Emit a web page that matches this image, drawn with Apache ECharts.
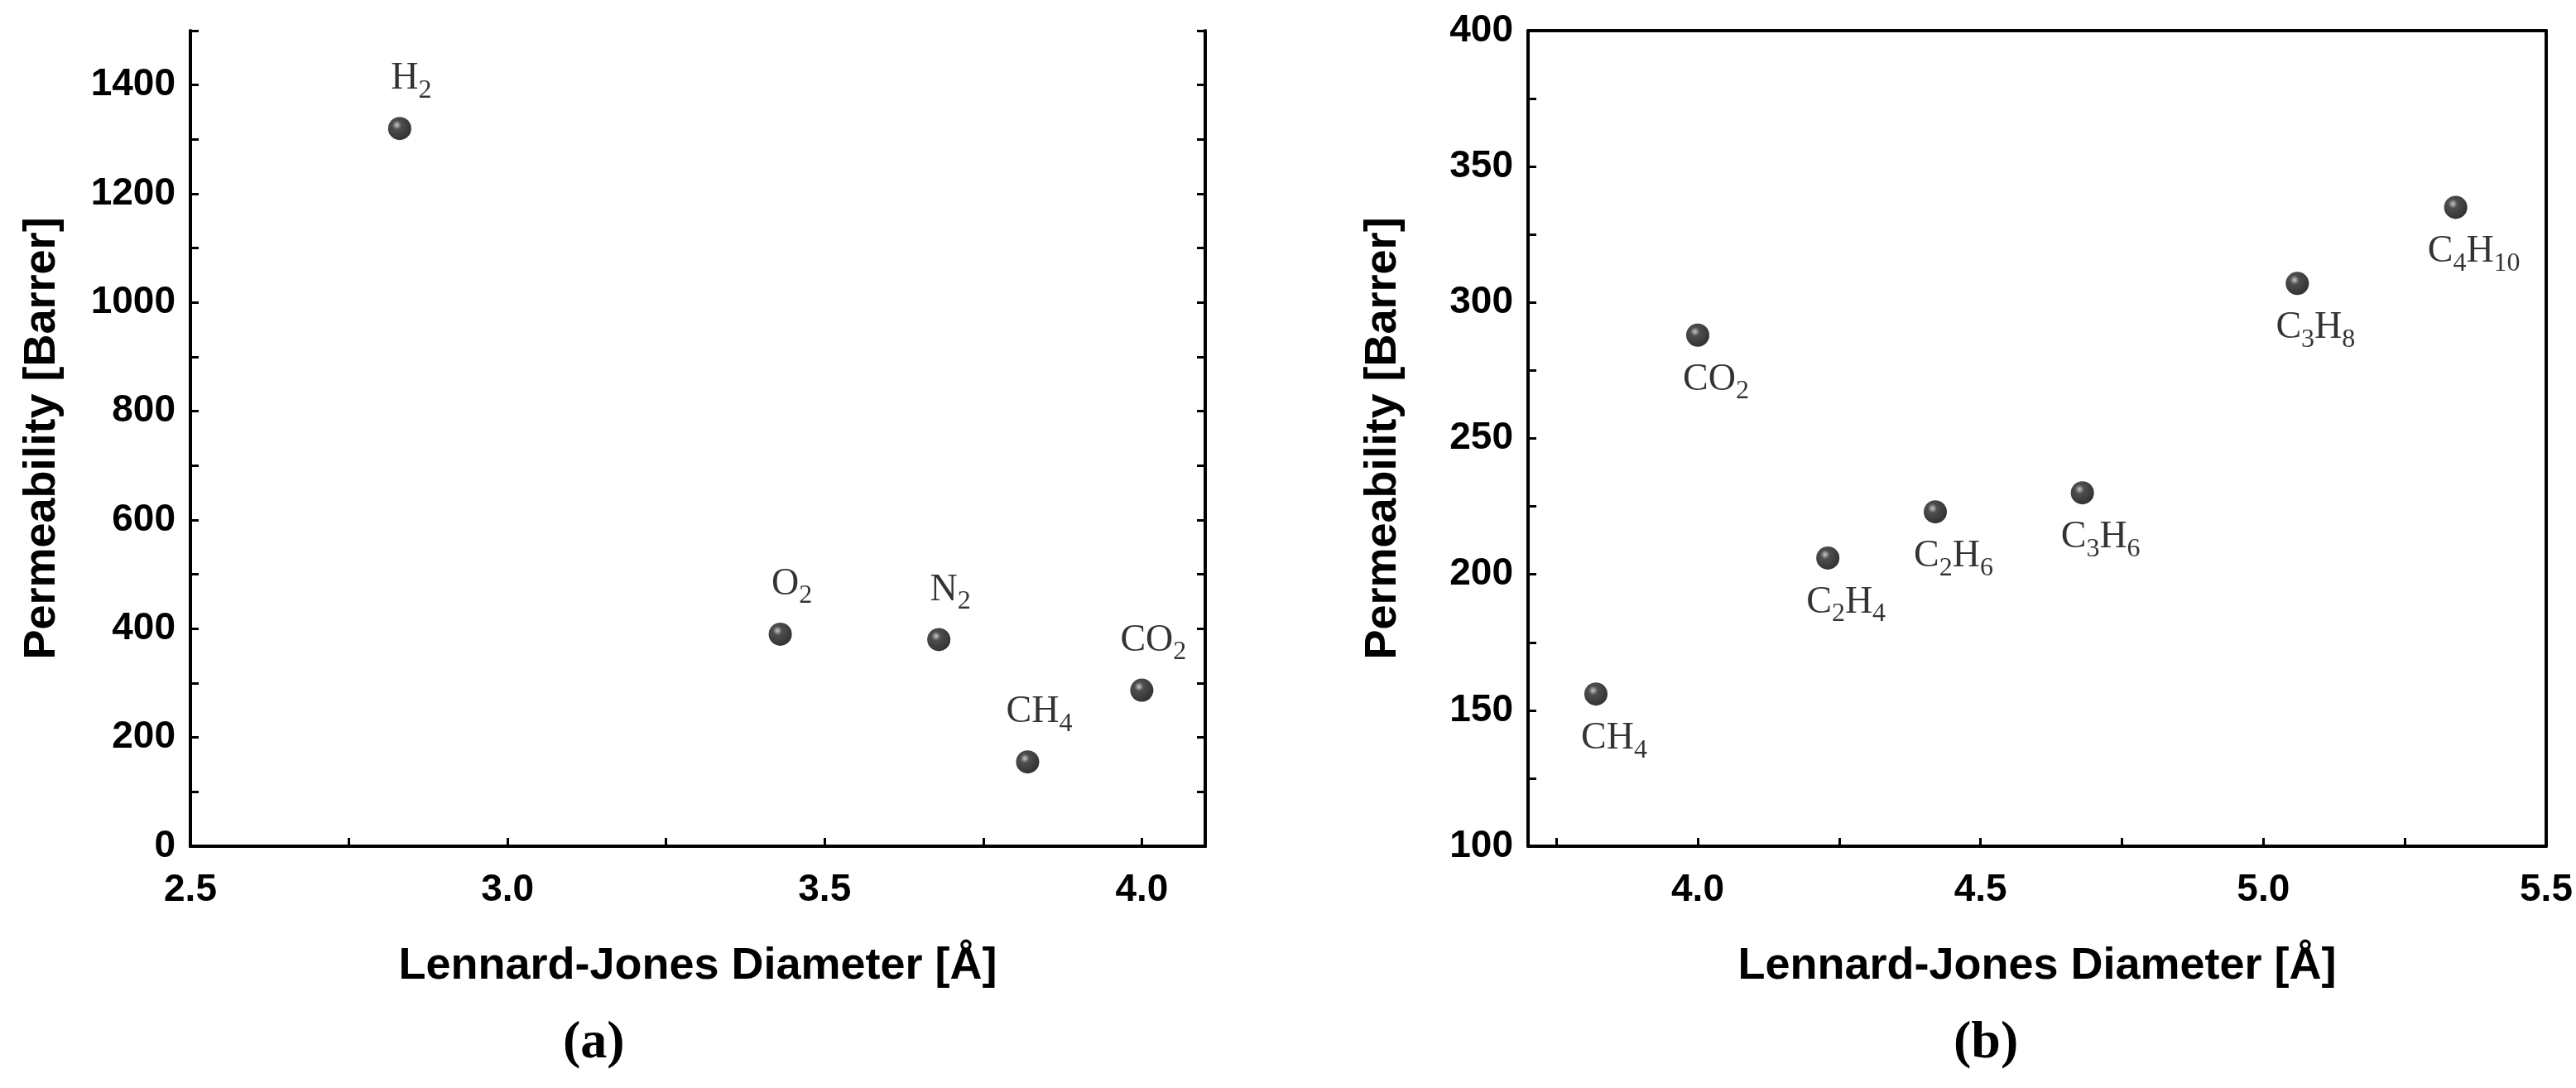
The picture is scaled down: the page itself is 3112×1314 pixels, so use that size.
<!DOCTYPE html>
<html>
<head>
<meta charset="utf-8">
<script src="https://cdn.jsdelivr.net/npm/echarts@6/dist/echarts.min.js"></script>
<style>
  html, body { margin: 0; padding: 0; background: #fff; }
  #main { width: 3112px; height: 1314px; }
</style>
</head>
<body>
<div id="main"></div>
<script>
// (a) gases
var gasA = ['H2', 'O2', 'N2', 'CH4', 'CO2'];
var diaA = [2.83, 3.43, 3.68, 3.82, 4.00];
var permA = [1320, 390, 380, 155, 287];

// (b) hydrocarbons
var gasB = ['CH4', 'CO2', 'C2H4', 'C2H6', 'C3H6', 'C3H8', 'C4H10'];
var diaB = [3.82, 4.00, 4.23, 4.42, 4.68, 5.06, 5.34];
var permB = [156, 288, 206, 223, 230, 307, 335];

var xTicksB = [4.0, 4.5, 5.0, 5.5];
var xAllTicksB = [3.75, 4.0, 4.25, 4.5, 4.75, 5.0, 5.25, 5.5];

var serif = 'Liberation Serif';
var sans = 'Liberation Sans';

// turn digits into subscripts
function chem(name) {
  return name.replace(/([A-Za-z]+)|(\d+)/g, function (m, a, d) {
    return a ? '{n|' + a + '}' : '{s|' + d + '}';
  });
}
var richChem = {
  n: { fontFamily: serif, fontSize: 46, color: '#000' },
  s: { fontFamily: serif, fontSize: 32, color: '#000', padding: [28, 0, 0, 0] }
};

var ball = {
  type: 'radial', x: 0.38, y: 0.35, r: 0.65,
  colorStops: [{ offset: 0, color: '#bbbbbb' }, { offset: 0.3, color: '#222' }, { offset: 1, color: '#000' }]
};

function pts(xs, ys, names) {
  return xs.map(function (x, i) { return { value: [x, ys[i]], name: names[i] }; });
}

var grids = [
  { left: 230, top: 37, width: 1226, height: 985 },
  { left: 1846, top: 37, width: 1230, height: 985 }
];

var tickLbl = { fontFamily: sans, fontWeight: 'bold', fontSize: 46, color: '#000' };
var nameSty = { fontFamily: sans, fontWeight: 'bold', fontSize: 54, color: '#000' };
var line = { show: true, lineStyle: { color: '#000', width: 4 } };
var minor = { show: true, splitNumber: 2, length: 10, lineStyle: { width: 3, color: '#000' } };

function frameAxis(extra) {
  return Object.assign({
    type: 'value', axisLine: line, splitLine: { show: false },
    axisTick: { inside: true, length: 10, lineStyle: { width: 3 } },
    axisLabel: { show: false }
  }, extra);
}

var option = {
  animation: false,
  backgroundColor: '#fff',
  grid: grids,
  xAxis: [
    frameAxis({ gridIndex: 0, min: 2.5, max: 4.1, interval: 0.5, minorTick: minor,
      axisLabel: Object.assign({ show: true, margin: 30, showMaxLabel: false, formatter: function (v) { return v.toFixed(1); } }, tickLbl),
      name: 'Lennard-Jones Diameter [Å]', nameLocation: 'middle', nameGap: 118, nameTextStyle: nameSty }),
    frameAxis({ gridIndex: 0, position: 'top', min: 2.5, max: 4.1, axisTick: { show: false } }),
    frameAxis({ gridIndex: 1, min: 3.7, max: 5.5,
      axisTick: { inside: true, length: 10, lineStyle: { width: 3 }, customValues: xAllTicksB },
      axisLabel: Object.assign({ show: true, margin: 30, customValues: xTicksB, formatter: function (v) { return v.toFixed(1); } }, tickLbl),
      name: 'Lennard-Jones Diameter [Å]', nameLocation: 'middle', nameGap: 118, nameTextStyle: nameSty }),
    frameAxis({ gridIndex: 1, position: 'top', min: 3.7, max: 5.5, axisTick: { show: false } })
  ],
  yAxis: [
    frameAxis({ gridIndex: 0, min: 0, max: 1500, interval: 200, minorTick: minor,
      axisLabel: Object.assign({ show: true, margin: 18, showMaxLabel: false, formatter: function (v) { return String(v); } }, tickLbl),
      name: 'Permeability [Barrer]', nameLocation: 'middle', nameRotate: 90, nameGap: 152, nameTextStyle: nameSty }),
    frameAxis({ gridIndex: 0, position: 'right', min: 0, max: 1500, interval: 200, minorTick: minor }),
    frameAxis({ gridIndex: 1, min: 100, max: 400, interval: 50, minorTick: minor,
      axisLabel: Object.assign({ show: true, margin: 18 }, tickLbl),
      name: 'Permeability [Barrer]', nameLocation: 'middle', nameRotate: 90, nameGap: 148, nameTextStyle: nameSty }),
    frameAxis({ gridIndex: 1, position: 'right', min: 100, max: 400, axisTick: { show: false } })
  ],
  series: [
    {
      type: 'scatter', xAxisIndex: 0, yAxisIndex: 0, symbolSize: 28,
      itemStyle: { color: ball },
      data: pts(diaA, permA, gasA),
      label: {
        show: true, position: 'top', distance: 16, offset: [14, 0],
        formatter: function (p) { return chem(p.name); }, rich: richChem
      }
    },
    {
      type: 'scatter', xAxisIndex: 2, yAxisIndex: 2, symbolSize: 28,
      itemStyle: { color: ball },
      data: pts(diaB, permB, gasB),
      label: {
        show: true, position: 'bottom', distance: 10, offset: [22, 0],
        formatter: function (p) { return chem(p.name); }, rich: richChem
      }
    }
  ],
  graphic: [
    { type: 'text', left: 680, top: 1228, style: { text: '(a)', font: 'bold 64px "Liberation Serif"', fill: '#000' } },
    { type: 'text', left: 2360, top: 1228, style: { text: '(b)', font: 'bold 64px "Liberation Serif"', fill: '#000' } }
  ]
};

var chart = echarts.init(document.getElementById('main'));
chart.setOption(option);
</script>
</body>
</html>
